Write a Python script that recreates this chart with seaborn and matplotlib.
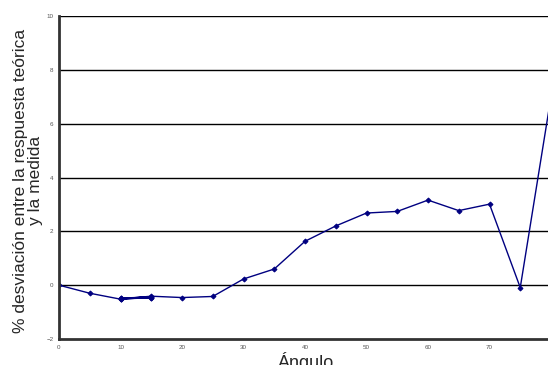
import pandas as pd
import matplotlib
matplotlib.use("Agg")
import matplotlib.pyplot as plt
import seaborn as sns

# --- Data ---
angulo = [0, 5, 10, 15, 10, 15, 10, 15, 10, 15, 10, 15, 20, 25, 30, 35, 40, 45, 50, 55, 60, 65, 70, 75, 80]
desviacion = [0.0, -0.30, -0.52, -0.45, -0.48, -0.44, -0.50, -0.46, -0.49, -0.47, -0.51, -0.41,
              -0.46, -0.42, 0.23, 0.60, 1.63, 2.20, 2.68, 2.74, 3.16, 2.77, 3.01, -0.09, 7.0]

df = pd.DataFrame({"angulo": angulo, "desviacion": desviacion})

# --- Style ---
sns.set_style("white")
plt.rcParams['font.family'] = ['Liberation Sans', 'DejaVu Sans']

fig = plt.figure(figsize=(5.48, 3.65), dpi=100)
ax = fig.add_axes([59 / 548, 26 / 365, 492 / 548, 323 / 365])

# horizontal grid lines
for yv in range(0, 12, 2):
    ax.axhline(yv, color="black", lw=1, zorder=0)

sns.lineplot(data=df, x="angulo", y="desviacion", sort=False, estimator=None,
             color="#000080", lw=1, marker="D", markersize=2.5,
             markeredgecolor="#000080", ax=ax)

ax.set_xlim(0, 80)
ax.set_ylim(-2, 10)
ax.set_xticks(range(0, 90, 10))
ax.set_yticks(range(-2, 12, 2))

for side in ["top", "right"]:
    ax.spines[side].set_visible(False)
for side in ["left", "bottom"]:
    ax.spines[side].set_color("#333333")
    ax.spines[side].set_linewidth(2)

ax.tick_params(axis="both", length=1.5, width=0.8, color="#333333",
               labelsize=4.5, labelcolor="#555555")
ax.tick_params(axis="y", pad=2.5)
ax.tick_params(axis="x", pad=3)

ax.set_xlabel("Ángulo", fontsize=13, labelpad=1)
ax.set_ylabel("% desviación entre la respuesta teórica\ny la medida", fontsize=12.5,
              linespacing=1.0)
ax.yaxis.set_label_coords(-0.032, 0.49)

fig.savefig("out.png", dpi=100)
